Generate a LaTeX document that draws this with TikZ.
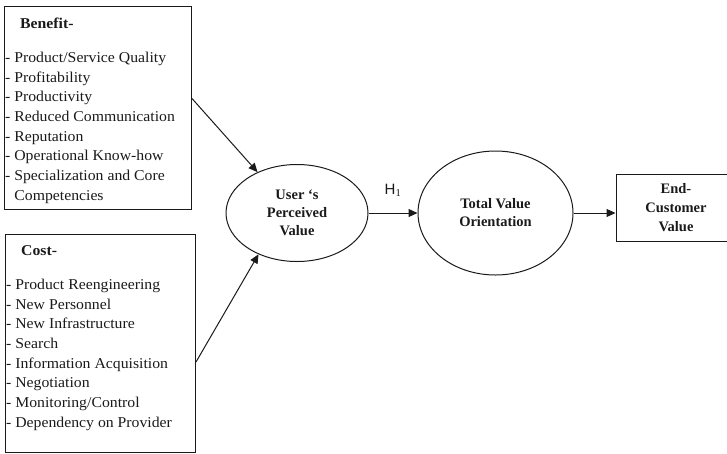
\documentclass[tikz,border=0pt]{standalone}
\usepackage{fontspec}
\setmainfont{Liberation Serif}
\newfontfamily\listfont{Liberation Serif}[FakeStretch=1.05]
\newfontfamily\hypfont{Liberation Sans}
\usetikzlibrary{arrows.meta,positioning,shapes.geometric}
\definecolor{ink}{HTML}{1A1A1A}
\tikzset{
  listbox/.style={draw=ink,line width=1pt,inner sep=0pt,anchor=north west},
  listtext/.style={inner sep=0pt,align=left,text=ink,font=\listfont\fontsize{15}{19.7}\selectfont},
  construct/.style={draw=ink,ellipse,line width=1pt,inner sep=0pt,align=center,text=ink,font=\fontsize{14.5}{18}\selectfont\bfseries},
  outcome/.style={draw=ink,line width=1pt,inner sep=0pt,align=center,text=ink,font=\fontsize{14.5}{19}\selectfont\bfseries},
  flow/.style={-{Triangle[length=9pt,width=8pt]},line width=1pt,draw=ink}
}

\begin{document}
\begin{tikzpicture}[x=1pt,y=-1pt]
    \useasboundingbox (0,0) rectangle (727,453);

    \node[listbox,minimum width=187pt,minimum height=203pt] (benefit) at (4,6) {};
    \node[listtext,below right=12pt and 1pt of benefit.north west] (benefitlist) {%
      \hspace*{15pt}\textbf{Benefit-}\\[14pt]
      - Product/Service Quality\\
      - Profitability\\
      - Productivity\\
      - Reduced Communication\\
      - Reputation\\
      - Operational Know-how\\
      - Specialization and Core\\
      \phantom{- }Competencies};

    \node[listbox,minimum width=190pt,minimum height=218pt] (cost) at (5,234) {};
    \node[listtext,below right=11.5pt and 1pt of cost.north west] (costlist) {%
      \hspace*{15pt}\textbf{Cost-}\\[14pt]
      - Product Reengineering\\
      - New Personnel\\
      - New Infrastructure\\
      - Search\\
      - Information Acquisition\\
      - Negotiation\\
      - Monitoring/Control\\
      - Dependency on Provider};

    \node[construct,minimum width=142pt,minimum height=97pt] (perceived) at (297,213) {User `s\\Perceived\\Value};
    \node[construct,right=49pt of perceived,minimum width=155pt,minimum height=124pt] (totalvalue) {Total Value\\Orientation};
    \node[outcome,right=42pt of totalvalue,yshift=5pt,minimum width=120pt,minimum height=67pt] (endvalue) {End-\\Customer\\Value};

    \draw[flow] ([yshift=9.5pt]benefit.east) -- (perceived.134);
    \draw[flow] ([yshift=-18.5pt]cost.east) -- (perceived.227);
    \draw[flow] (perceived.east) -- node[above=13pt,text=ink,font=\hypfont\fontsize{15}{15}\selectfont] (hone) {H$_{\mathrm{1}}$} (totalvalue.west);
    \draw[flow] (totalvalue.east) -- (totalvalue.east -| endvalue.west);
  \end{tikzpicture}
\end{document}
